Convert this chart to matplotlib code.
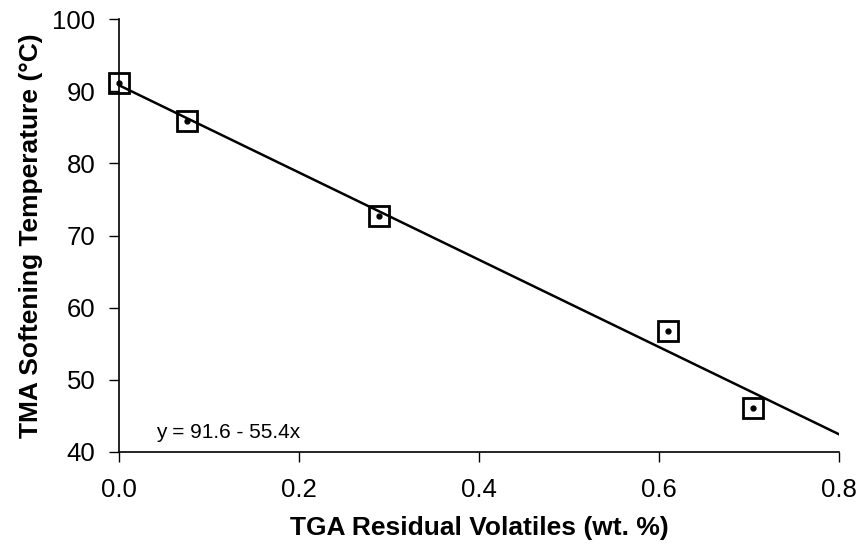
import matplotlib
matplotlib.use('Agg')
import matplotlib.pyplot as plt
import numpy as np

# data
volatiles = [0.0, 0.076, 0.289, 0.610, 0.704]
softening = [91.2, 85.8, 72.7, 56.8, 46.1]
x_ticks = [0.0, 0.2, 0.4, 0.6, 0.8]
y_ticks = [40, 50, 60, 70, 80, 90, 100]
fit_label = 'y = 91.6 - 55.4x'

plt.rcParams['font.family'] = ['Liberation Sans', 'DejaVu Sans']

fig = plt.figure(figsize=(8.57, 5.48), dpi=100)
ax = fig.add_axes([0.1389, 0.1752, 0.840, 0.7901])

# regression line over the full x range
slope, icpt = np.polyfit(volatiles, softening, 1)
xl = np.array([0.0, 0.8])
ax.plot(xl, icpt + slope * xl, color='black', linewidth=1.8, zorder=2)

ax.plot(volatiles, softening, linestyle='none', marker='s', markersize=15,
        markerfacecolor='none', markeredgecolor='black', markeredgewidth=2,
        clip_on=False, zorder=3)
ax.plot(volatiles, softening, linestyle='none', marker='o', markersize=3.5,
        color='black', clip_on=False, zorder=4)

ax.text(0.041, 41.9, fit_label, fontsize=15, ha='left', va='baseline')

ax.set_xlim(0, 0.8)
ax.set_ylim(40, 100)
ax.set_xticks(x_ticks)
ax.set_xticklabels([f'{v:.1f}' for v in x_ticks])
ax.set_yticks(y_ticks)
ax.tick_params(direction='out', length=7, width=1, labelsize=18.5)
ax.tick_params(axis='x', pad=12)
ax.tick_params(axis='y', pad=10)

for s in ['top', 'right']:
    ax.spines[s].set_visible(False)
for s in ['left', 'bottom']:
    ax.spines[s].set_linewidth(1.2)

ax.set_xlabel('TGA Residual Volatiles (wt. %)', fontsize=19, fontweight='bold', labelpad=10)
ax.set_ylabel('TMA Softening Temperature (°C)', fontsize=19, fontweight='bold', labelpad=7)

fig.savefig('out.png', dpi=100, facecolor='white')
